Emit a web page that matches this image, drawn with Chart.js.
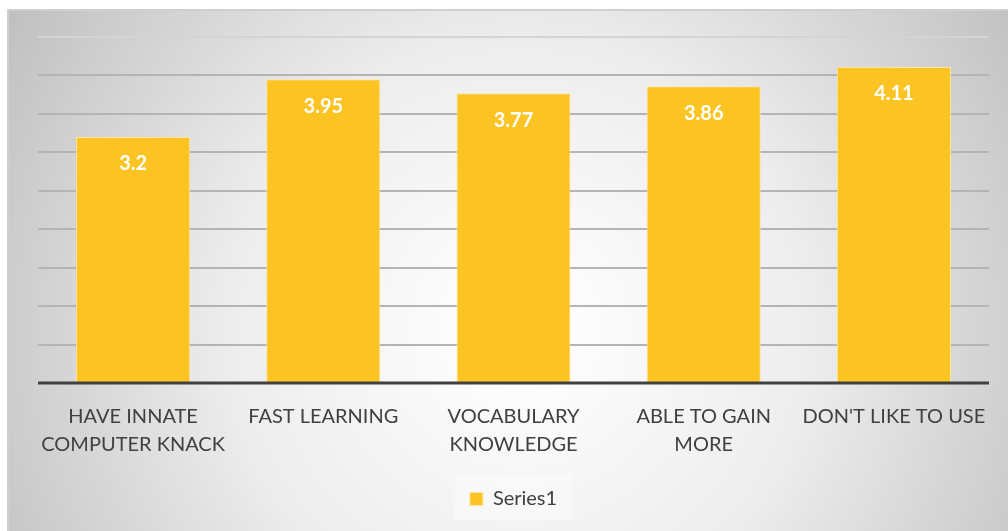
<!DOCTYPE html>
<html>
<head>
<meta charset="utf-8">
<script src="https://cdn.jsdelivr.net/npm/chart.js@4/dist/chart.umd.min.js"></script>
<style>
    html, body { margin: 0; padding: 0; background: #fff; }
    #wrap { position: relative; width: 1008px; height: 531px; }
</style>
</head>
<body>
<div id="wrap"><canvas id="chart" width="1008" height="531"></canvas></div>
<script>
const categories = [
    ['HAVE INNATE', 'COMPUTER KNACK'],
    'FAST LEARNING',
    ['VOCABULARY', 'KNOWLEDGE'],
    ['ABLE TO GAIN', 'MORE'],
    "DON'T LIKE TO USE",
];
const series1 = [3.2, 3.95, 3.77, 3.86, 4.11];
const seriesName = 'Series1';
const yMin = 0;
const yMax = 4.5;
const yStep = 0.5;

const fontFamily = "Lato, 'Open Sans', sans-serif";

// frame with radial grey background, drawn before the chart
const backgroundPlugin = {
    id: 'frameBg',
    beforeDraw(chart) {
        const ctx = chart.ctx;
        ctx.save();
        const g = ctx.createRadialGradient(520, 330, 20, 520, 330, 620);
        g.addColorStop(0, '#ffffff');
        g.addColorStop(0.45, '#ededed');
        g.addColorStop(1, '#bdbdbd');
        ctx.fillStyle = g;
        ctx.fillRect(8, 9, 1000, 522);
        ctx.strokeStyle = '#cfcfcf';
        ctx.lineWidth = 2;
        ctx.beginPath();
        ctx.moveTo(8, 532);
        ctx.lineTo(8, 10);
        ctx.lineTo(1010, 10);
        ctx.stroke();

        // legend box background
        ctx.fillStyle = 'rgba(255,255,255,0.35)';
        ctx.fillRect(455, 474, 117, 46);
        ctx.restore();
    }
};

// value labels inside top of each bar
const valueLabels = {
    id: 'valueLabels',
    afterDatasetsDraw(chart) {
        const ctx = chart.ctx;
        const meta = chart.getDatasetMeta(0);
        ctx.save();
        ctx.fillStyle = '#ffffff';
        ctx.font = 'bold 20px ' + fontFamily;
        ctx.textAlign = 'center';
        ctx.textBaseline = 'middle';
        meta.data.forEach((bar, i) => {
            ctx.fillText(String(series1[i]), bar.x, bar.y + 27);
        });
        ctx.restore();
    }
};

// thick dark baseline
const baseLine = {
    id: 'baseLine',
    afterDatasetsDraw(chart) {
        const { ctx, chartArea } = chart;
        const y = chart.scales.y.getPixelForValue(0);
        ctx.save();
        ctx.strokeStyle = '#404040';
        ctx.lineWidth = 3;
        ctx.beginPath();
        ctx.moveTo(chartArea.left, y);
        ctx.lineTo(chartArea.right, y);
        ctx.stroke();
        ctx.restore();
    }
};

new Chart(document.getElementById('chart'), {
    type: 'bar',
    data: {
        labels: categories,
        datasets: [{
            label: seriesName,
            data: series1,
            backgroundColor: '#fbc423',
            borderColor: '#fde59c',
            borderWidth: 1,
            categoryPercentage: 0.6,
            barPercentage: 1,
        }]
    },
    options: {
        responsive: false,
        animation: false,
        layout: { padding: { left: 38, right: 19, top: 37, bottom: 12 } },
        scales: {
            x: {
                grid: { display: false },
                border: { display: false },
                ticks: {
                    color: '#404040',
                    font: { family: fontFamily, size: 20, lineHeight: 1.4 },
                    maxRotation: 0,
                    padding: 12,
                },
            },
            y: {
                min: yMin,
                max: yMax,
                ticks: { display: false, stepSize: yStep },
                border: { display: false },
                grid: {
                    drawTicks: false,
                    lineWidth: 2,
                    color: (c) => c.tick && c.tick.value === yMax ? '#d4d4d4' : '#b4b4b4',
                },
            }
        },
        plugins: {
            legend: {
                position: 'bottom',
                labels: {
                    color: '#404040',
                    font: { family: fontFamily, size: 20 },
                    boxWidth: 13,
                    boxHeight: 13,
                    padding: 18,
                },
            },
            tooltip: { enabled: false },
        }
    },
    plugins: [backgroundPlugin, valueLabels, baseLine]
});
</script>
</body>
</html>
